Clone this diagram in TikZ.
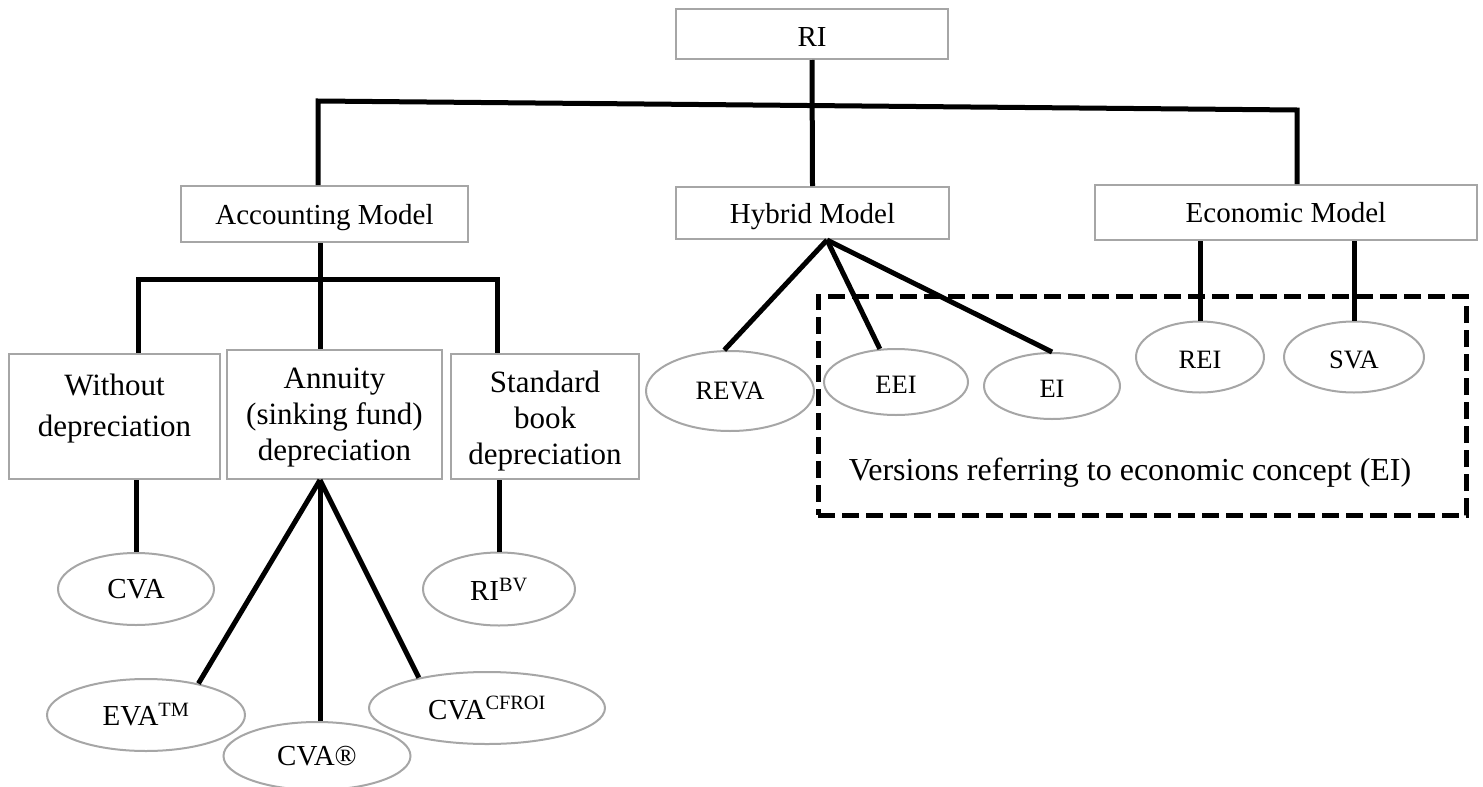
\documentclass[tikz,border=0pt]{standalone}
\usepackage{fontspec}
\setmainfont{Liberation Serif}
\usetikzlibrary{shapes.geometric}
\definecolor{boxgray}{RGB}{166,166,166}
\newcommand\szModel{\fontsize{29}{35}\selectfont}
\newcommand\szDep{\fontsize{31}{36}\selectfont}
\newcommand\szDepW{\fontsize{31}{41}\selectfont}
\newcommand\szEl{\fontsize{29}{35}\selectfont}
\newcommand\szSm{\fontsize{26.5}{32}\selectfont}
\newcommand\szVer{\fontsize{32}{38}\selectfont}
\begin{document}
\begin{tikzpicture}[x=1pt,y=1pt,
  box/.style={draw=boxgray,line width=2pt,rectangle,inner sep=0pt,align=center},
  mbox/.style={box,font=\szModel,text height=20pt,text depth=0pt},
  ell/.style={draw=boxgray,line width=2pt,ellipse,inner sep=0pt,fill=white},
  sell/.style={ell,font=\szSm,text height=23pt,text depth=0pt},
  conn/.style={line width=5pt,draw=black},
  grp/.style={draw=black,line width=5pt,dash pattern=on 17pt off 7pt,rectangle,inner sep=0pt}]
\useasboundingbox (0,0) rectangle (1483,-787);
\clip (0,0) rectangle (1483,-787);

% group frame
\node[grp,minimum width=648,minimum height=219] (G) at (1142,-405.5) {};
\node[font=\szVer] (Gt) at (1130,-473) {Versions referring to economic concept (EI)};

% boxes
\node[mbox,minimum width=272,minimum height=50,text height=25pt] (RI) at (812,-34) {RI};
\node[mbox,minimum width=287,minimum height=56] (Acc) at (324.5,-214) {Accounting Model};
\node[mbox,minimum width=273,minimum height=52] (Hyb) at (812.5,-213) {Hybrid Model};
\node[mbox,minimum width=382,minimum height=55] (Eco) at (1286,-212.5) {Economic Model};
\node[box,minimum width=211,minimum height=125,font=\szDepW] (Wo) at (114.5,-416.5) {Without\\depreciation\\[-18pt]\mbox{}};
\node[box,minimum width=215,minimum height=129,font=\szDep] (An) at (334.5,-414.5) {\mbox{}\\[-10pt]Annuity\\(sinking fund)\\depreciation};
\node[box,minimum width=188,minimum height=125,font=\szDep] (St) at (545,-416.5) {\mbox{}\\[-6pt]Standard\\book\\depreciation};

% ellipses
\node[ell,minimum width=156,minimum height=72,font=\szEl] (CVA) at (136,-589) {CVA};
\node[ell,minimum width=152,minimum height=73,font=\szEl] (RBV) at (499,-589) {RI\textsuperscript{BV}};
\node[ell,minimum width=198,minimum height=72,font=\szEl] (EVA) at (146,-715) {EVA\textsuperscript{TM}};
\node[ell,minimum width=187,minimum height=68,font=\szEl] (CVR) at (317,-756) {CVA®};
\node[ell,minimum width=236,minimum height=72,font=\szEl] (CFR) at (487,-708) {CVA\textsuperscript{CFROI}};
\node[ell,minimum width=168,minimum height=80,font=\szSm] (REVA) at (730,-391) {REVA};
\node[sell,minimum width=144,minimum height=66] (EEI) at (896,-382) {EEI};
\node[sell,minimum width=136,minimum height=66] (EI) at (1052,-386) {EI};
\node[sell,minimum width=128,minimum height=71] (REI) at (1200,-357) {REI};
\node[sell,minimum width=140,minimum height=71] (SVA) at (1354,-357) {SVA};

% connectors
\coordinate (jL) at (318,-101);
\coordinate (jR) at (1297,-110);
\draw[conn] (jL |- Acc.north) -- (jL) -- (jR) -- (jR |- Eco.north);
\draw[conn] (RI.south) -- (Hyb.north);

\coordinate (aj) at (320,-279);
\coordinate (al) at (138,-279);
\coordinate (ar) at (497,-279);
\draw[conn] (aj |- Acc.south) -- (aj |- An.north);
\draw[conn] (al |- Wo.north) -- (al) -- (ar) -- (ar |- St.north);
\draw[conn] (CVA.north |- Wo.south) -- (CVA.north);
\draw[conn] (RBV.north |- St.south) -- (RBV.north);

\coordinate (ap) at (aj |- An.south);
\draw[conn] (ap) -- (EVA.31);
\draw[conn] (ap) -- (ap |- CVR.north);
\draw[conn] (ap) -- (CFR.156);

\coordinate (hp) at ([xshift=14.5pt]Hyb.south);
\draw[conn] (hp) -- (REVA.98);
\draw[conn] (hp) -- (EEI.116);
\draw[conn] (hp) -- (EI.north);
\draw[conn] (REI.north |- Eco.south) -- (REI.north);
\draw[conn] (SVA.north |- Eco.south) -- (SVA.north);
\end{tikzpicture}
\end{document}
